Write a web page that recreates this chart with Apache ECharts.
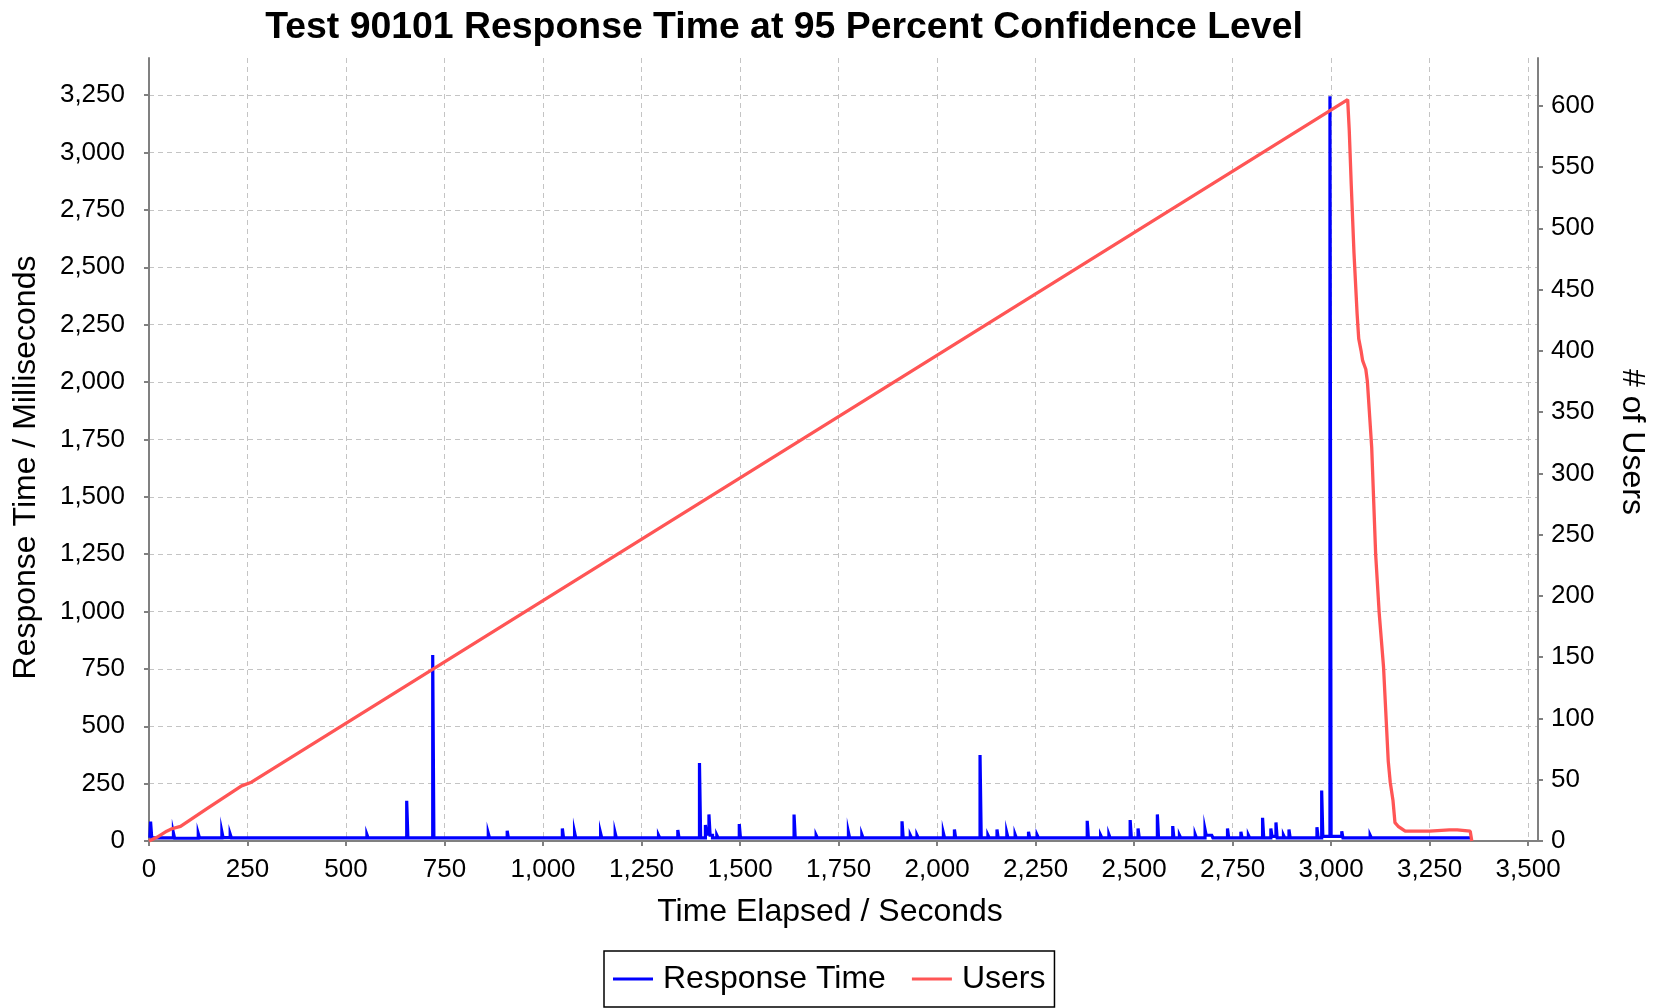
<!DOCTYPE html>
<html>
<head>
<meta charset="utf-8">
<title>Test 90101 Response Time</title>
<script src="https://cdn.jsdelivr.net/npm/echarts@6/dist/echarts.min.js"></script>
<style>
	html, body { margin: 0; padding: 0; background: #fff; }
	#chart { width: 1658px; height: 1008px; }
</style>
</head>
<body>
<div id="chart"></div>
<script>
// [seconds, milliseconds] - each spike is followed by the sample that drops back
const respTime = [
	[2, 14], [4, 85], [7, 14], [45, 20], [48, 14], [62, 35], [65, 12],
	[125, 32], [128, 14], [167, 20], [170, 14], [185, 40], [188, 15],
	[206, 30], [209, 14], [235, 22], [238, 14], [260, 22], [263, 14],
	[311, 22], [314, 14], [328, 22], [331, 14], [362, 22], [365, 14],
	[387, 20], [390, 14], [434, 20], [437, 14], [472, 22], [475, 14],
	[502, 18], [505, 14], [553, 28], [556, 14], [590, 20], [593, 14],
	[616, 18], [619, 14], [654, 175], [657, 14], [720, 810], [723, 14],
	[756, 20], [759, 14], [790, 18], [793, 14], [837, 20], [840, 14],
	[861, 33], [864, 14], [909, 45], [912, 14], [992, 22], [995, 14],
	[1049, 55], [1052, 14], [1080, 38], [1083, 14], [1146, 35], [1149, 14],
	[1183, 35], [1186, 14], [1229, 20], [1232, 14], [1293, 25], [1296, 14],
	[1342, 48], [1345, 14], [1369, 22], [1372, 14], [1397, 340], [1400, 14],
	[1412, 70], [1415, 30], [1421, 116], [1424, 25], [1430, 14],
	[1441, 25], [1444, 14], [1498, 74], [1501, 14], [1534, 22], [1537, 14],
	[1583, 20], [1586, 14], [1637, 115], [1640, 14], [1693, 25], [1696, 14],
	[1775, 38], [1778, 14], [1809, 28], [1812, 14], [1847, 20], [1850, 14],
	[1894, 20], [1897, 14], [1911, 86], [1914, 14], [1932, 25], [1935, 14],
	[1949, 25], [1952, 14], [2016, 35], [2019, 14], [2044, 50], [2047, 14],
	[2109, 375], [2112, 14], [2129, 25], [2132, 14], [2152, 50], [2155, 14],
	[2177, 35], [2180, 14], [2198, 28], [2201, 14], [2232, 40], [2235, 14],
	[2254, 25], [2257, 14], [2292, 20], [2295, 14], [2322, 20], [2325, 14],
	[2356, 20], [2359, 14], [2381, 88], [2384, 14], [2415, 25], [2418, 14],
	[2436, 28], [2439, 14], [2490, 91], [2493, 14], [2510, 55], [2513, 14],
	[2524, 22], [2527, 14], [2559, 116], [2562, 14], [2598, 65], [2601, 14],
	[2615, 25], [2618, 14], [2655, 28], [2658, 14], [2680, 50], [2683, 25],
	[2697, 32], [2700, 14], [2718, 22], [2721, 14], [2737, 55], [2740, 14],
	[2771, 40], [2774, 14], [2790, 25], [2793, 14], [2826, 101], [2829, 14],
	[2847, 55], [2850, 20], [2860, 81], [2863, 14], [2879, 25], [2882, 14],
	[2893, 50], [2896, 14], [2917, 22], [2920, 14], [2964, 60], [2967, 14],
	[2976, 220], [2979, 20], [2997, 3245], [3000, 20], [3027, 42], [3030, 14],
	[3065, 18], [3068, 14], [3099, 25], [3102, 14], [3133, 18], [3136, 14],
	[3184, 18], [3187, 14], [3235, 20], [3238, 14], [3269, 20], [3272, 14],
	[3303, 22], [3306, 14], [3337, 22], [3340, 14], [3355, 14]
];

// [seconds, users]
const users = [
	[0, 0], [20, 3], [45, 8], [58, 10], [80, 12], [150, 27], [235, 45],
	[260, 48], [3042, 605], [3046, 580], [3051, 536], [3058, 480],
	[3066, 430], [3070, 410], [3076, 400], [3080, 392], [3088, 385],
	[3092, 375], [3103, 321], [3113, 234], [3122, 186], [3133, 142],
	[3145, 65], [3150, 48], [3157, 33], [3162, 15], [3170, 12], [3188, 8],
	[3250, 8], [3300, 9], [3320, 9], [3353, 8], [3357, 0]
];

const xTicks = [0, 250, 500, 750, 1000, 1250, 1500, 1750, 2000, 2250, 2500, 2750, 3000, 3250, 3500];
const msTicks = [0, 250, 500, 750, 1000, 1250, 1500, 1750, 2000, 2250, 2500, 2750, 3000, 3250];
const userTicks = [0, 50, 100, 150, 200, 250, 300, 350, 400, 450, 500, 550, 600];

const FONT = '"Liberation Sans", Arial, sans-serif';
const AXIS_GREY = '#808080';
const GRID_LINE = { color: '#c4c4c4', width: 1, type: [5, 4] };

const fmt = (v) => v.toLocaleString('en-US');

const chart = echarts.init(document.getElementById('chart'), null, { renderer: 'canvas' });

const option = {
	animation: false,
	backgroundColor: '#ffffff',
	title: {
		text: 'Test 90101 Response Time at 95 Percent Confidence Level',
		left: 779,
		top: 4,
		textAlign: 'center',
		textStyle: { fontFamily: FONT, fontSize: 37.4, fontWeight: 'bold', color: '#000' }
	},
	legend: {
		left: 604,
		top: 951,
		padding: [9, 9, 9, 9],
		borderColor: '#000',
		borderWidth: 1.5,
		itemGap: 26,
		itemWidth: 40,
		itemHeight: 3,
		icon: 'rect',
		textStyle: { fontFamily: FONT, fontSize: 32, color: '#000', lineHeight: 38, padding: [0, 0, 0, 5] },
		data: ['Response Time', 'Users']
	},
	grid: {
		left: 149,
		right: 120,
		top: 58,
		bottom: 167,
		containLabel: false,
		outerBoundsMode: 'none'
	},
	xAxis: {
		type: 'value',
		min: 0,
		max: 3525,
		interval: 250,
		name: 'Time Elapsed / Seconds',
		nameLocation: 'middle',
		nameGap: 55,
		nameTextStyle: { fontFamily: FONT, fontSize: 32, color: '#000', padding: [0, 27, 0, 0] },
		axisLine: { show: true, onZero: false, lineStyle: { color: AXIS_GREY, width: 2 } },
		axisTick: { show: true, length: 5, customValues: xTicks, lineStyle: { color: AXIS_GREY, width: 2 } },
		axisLabel: {
			margin: 16,
			customValues: xTicks,
			fontFamily: FONT, fontSize: 26, color: '#000',
			formatter: (v) => fmt(v)
		},
		splitLine: { show: true, showMinLine: false, lineStyle: GRID_LINE }
	},
	yAxis: [
		{
			type: 'value',
			position: 'left',
			min: 0,
			max: 3412,
			interval: 250,
			name: 'Response Time / Milliseconds',
			nameLocation: 'middle',
			nameRotate: 90,
			nameGap: 107,
			nameTextStyle: { fontFamily: FONT, fontSize: 32, color: '#000', padding: [0, 36, 0, 0] },
			axisLine: { show: true, lineStyle: { color: AXIS_GREY, width: 2 } },
			axisTick: { show: true, length: 5, customValues: msTicks, lineStyle: { color: AXIS_GREY, width: 2 } },
			axisLabel: {
				margin: 24,
				customValues: msTicks,
				fontFamily: FONT, fontSize: 26, color: '#000',
				formatter: (v) => fmt(v)
			},
			splitLine: { show: true, showMinLine: false, lineStyle: GRID_LINE }
		},
		{
			type: 'value',
			position: 'right',
			min: 0,
			max: 639,
			interval: 50,
			name: '# of Users',
			nameLocation: 'middle',
			nameRotate: -90,
			nameGap: 78,
			nameTextStyle: { fontFamily: FONT, fontSize: 32, color: '#000', padding: [0, 15, 0, 0] },
			axisLine: { show: true, lineStyle: { color: AXIS_GREY, width: 2 } },
			axisTick: { show: true, length: 5, customValues: userTicks, lineStyle: { color: AXIS_GREY, width: 2 } },
			axisLabel: {
				margin: 13,
				customValues: userTicks,
				fontFamily: FONT, fontSize: 26, color: '#000',
				formatter: (v) => fmt(v)
			},
			splitLine: { show: false }
		}
	],
	series: [
		{
			name: 'Response Time',
			type: 'line',
			yAxisIndex: 0,
			step: 'end',
			showSymbol: false,
			symbol: 'none',
			color: '#0000ff',
			lineStyle: { color: '#0000ff', width: 3.2, join: 'miter' },
			data: respTime
		},
		{
			name: 'Users',
			type: 'line',
			yAxisIndex: 1,
			showSymbol: false,
			symbol: 'none',
			color: '#ff5555',
			lineStyle: { color: '#ff5555', width: 3.3 },
			data: users
		}
	]
};

chart.setOption(option);
</script>
</body>
</html>
